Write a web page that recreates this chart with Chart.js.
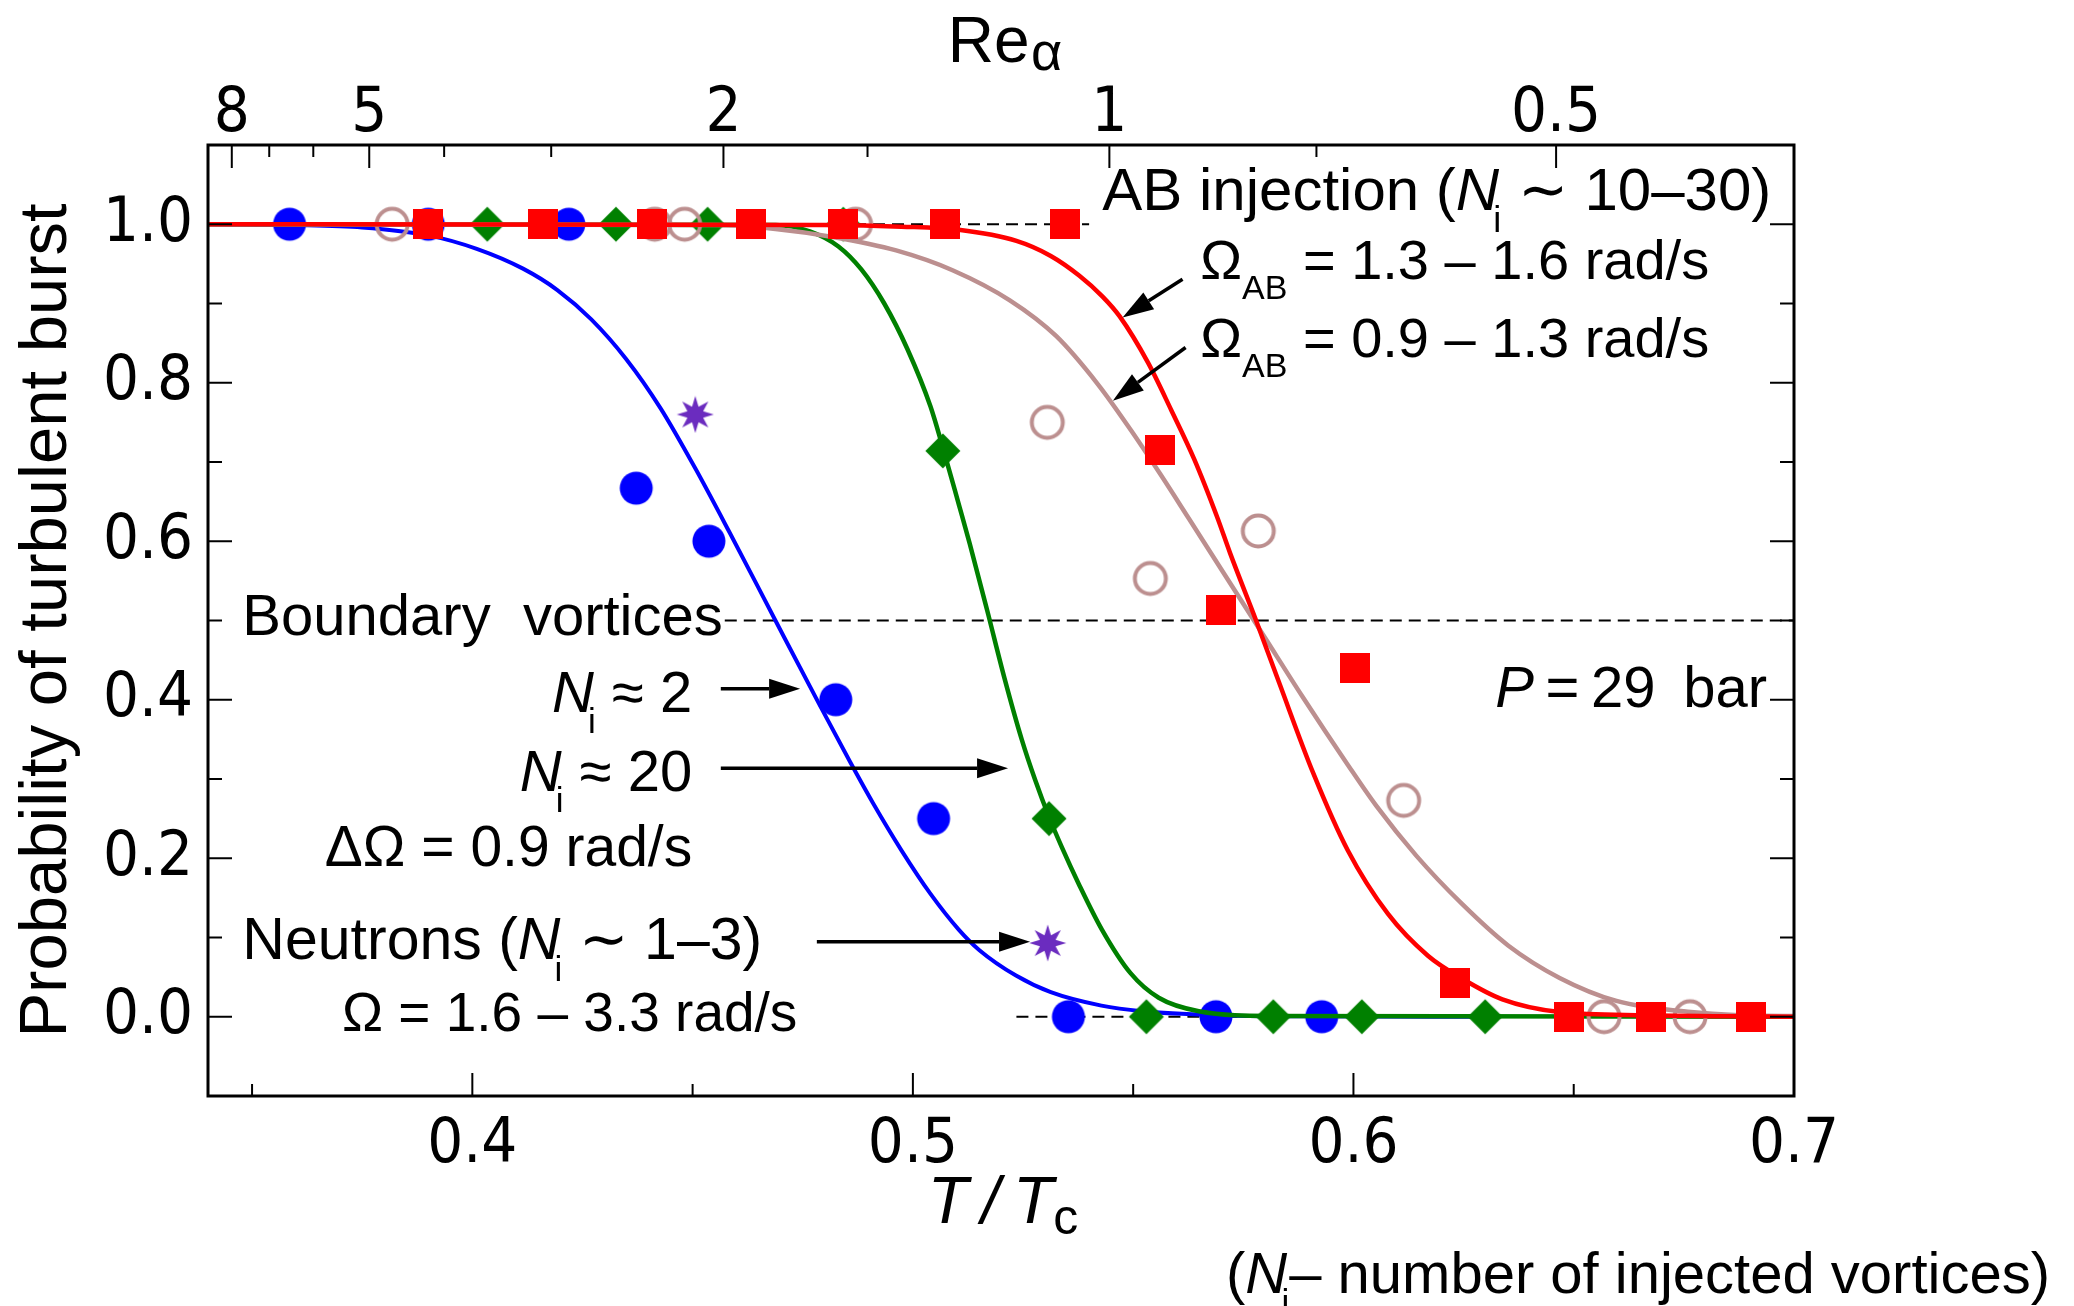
<!DOCTYPE html>
<html lang="en">
<head>
<meta charset="UTF-8">
<title>Probability of turbulent burst</title>
<style>
  html, body { margin: 0; padding: 0; background: #fff; }
  #wrap { width: 2074px; height: 1306px; }
</style>
</head>
<body>
<div id="wrap"><canvas id="burst" width="2074" height="1306"></canvas></div>
<script src="https://cdn.jsdelivr.net/npm/chart.js"></script>
<script>
// axis ranges and ticks
const tRange = [0.34, 0.70];
const pRange = [-0.1, 1.1];
const tTicks = [0.4, 0.5, 0.6, 0.7];
const tMinor = [0.35, 0.45, 0.55, 0.65];
const pTicks = [0.0, 0.2, 0.4, 0.6, 0.8, 1.0];
const pMinor = [0.1, 0.3, 0.5, 0.7, 0.9];

// top axis: Re_alpha, placed at the matching T/Tc
const reTicks = ['8', '7', '6', '5', '4', '3', '2', '1.5', '1', '0.7', '0.5'];
const reAtT   = [0.3454, 0.3539, 0.3639, 0.3766, 0.3936, 0.4179, 0.457, 0.4897, 0.5446, 0.5916, 0.646];
const reShown = ['8', '5', '2', '1', '0.5'];

// boundary vortices, Ni ~ 2
const bv2T = [0.3585, 0.3900, 0.4219, 0.4372, 0.4537, 0.4825, 0.5047, 0.5353, 0.5688, 0.5928];
const bv2P = [1, 1, 1, 0.667, 0.600, 0.400, 0.250, 0, 0, 0];
// boundary vortices, Ni ~ 20
const bv20T = [0.4034, 0.4326, 0.4534, 0.4842, 0.5068, 0.5309, 0.5530, 0.5818, 0.6019, 0.6299];
const bv20P = [1, 1, 1, 1, 0.714, 0.250, 0, 0, 0, 0];
// AB injection, Omega_AB = 1.3 - 1.6 rad/s
const abHiT = [0.3900, 0.4160, 0.4408, 0.4632, 0.4842, 0.5073, 0.5346, 0.5561, 0.5699, 0.6003, 0.6230, 0.6490, 0.6675, 0.6903];
const abHiP = [1, 1, 1, 1, 1, 1, 1, 0.715, 0.513, 0.440, 0.042, 0, 0, 0];
// AB injection, Omega_AB = 0.9 - 1.3 rad/s
const abLoT = [0.3818, 0.4414, 0.4482, 0.4870, 0.5305, 0.5539, 0.5784, 0.6114, 0.6569, 0.6764];
const abLoP = [1, 1, 1, 1, 0.750, 0.553, 0.613, 0.273, 0, 0];
// neutron irradiation
const neuT = [0.4506, 0.5306];
const neuP = [0.760, 0.093];

// fitted curves
const fitBv2T = [0.34, 0.36, 0.375, 0.39, 0.401, 0.4115, 0.4193, 0.427, 0.4349, 0.4427, 0.4506, 0.4584, 0.4688, 0.4785, 0.4857, 0.4909, 0.4974, 0.504, 0.5104, 0.5151, 0.5234, 0.5313, 0.5428, 0.552, 0.569, 0.59, 0.63];
const fitBv2P = [1.0, 0.999, 0.996, 0.986, 0.969, 0.944, 0.917, 0.880, 0.830, 0.768, 0.692, 0.611, 0.500, 0.397, 0.322, 0.270, 0.210, 0.155, 0.110, 0.084, 0.052, 0.031, 0.014, 0.007, 0.002, 0.0005, 0.0];
const fitBv20T = [0.34, 0.4688, 0.4766, 0.4831, 0.4883, 0.4935, 0.4988, 0.504, 0.5066, 0.5105, 0.5129, 0.5169, 0.5208, 0.5247, 0.5278, 0.5309, 0.5338, 0.5377, 0.5429, 0.5494, 0.5558, 0.5649, 0.5818, 0.70];
const fitBv20P = [1.0, 0.999, 0.991, 0.972, 0.943, 0.900, 0.842, 0.770, 0.722, 0.645, 0.597, 0.512, 0.427, 0.350, 0.298, 0.252, 0.214, 0.167, 0.110, 0.055, 0.024, 0.007, 0.001, 0.0];
const fitAbHiT = [0.34, 0.48, 0.4974, 0.5104, 0.5235, 0.5313, 0.5378, 0.543, 0.5469, 0.5534, 0.5586, 0.5639, 0.5691, 0.5720, 0.5779, 0.5831, 0.5909, 0.5987, 0.6078, 0.6169, 0.6247, 0.6338, 0.6468, 0.6662, 0.70];
const fitAbHiP = [1.0, 0.999, 0.997, 0.993, 0.979, 0.960, 0.935, 0.909, 0.884, 0.825, 0.766, 0.703, 0.630, 0.585, 0.500, 0.422, 0.307, 0.210, 0.130, 0.077, 0.048, 0.022, 0.006, 0.002, 0.0];
const fitAbLoT = [0.34, 0.4557, 0.4688, 0.4818, 0.4962, 0.509, 0.522, 0.5325, 0.542, 0.5495, 0.556, 0.5626, 0.5664, 0.5796, 0.5883, 0.5987, 0.6052, 0.6143, 0.6247, 0.6351, 0.6468, 0.6597, 0.6766, 0.6974, 0.70];
const fitAbLoP = [1.0, 0.999, 0.994, 0.984, 0.967, 0.942, 0.904, 0.859, 0.798, 0.740, 0.686, 0.629, 0.596, 0.481, 0.405, 0.318, 0.266, 0.203, 0.142, 0.090, 0.049, 0.020, 0.006, 0.001, 0.001];

// dashed guide lines: [from T, to T, level]
const guides = [[0.34, 0.540, 1.0], [0.4573, 0.70, 0.5], [0.5235, 0.70, 0.0]];

const FACE = "'Liberation Sans', Arial, sans-serif";
const NUMFACE = "'Liberation Sans Narrow', 'DejaVu Sans Condensed', sans-serif";

const pts = (xs, ys) => xs.map((x, i) => ({ x: x, y: ys[i] }));

function marker(kind, color) {
  const c = document.createElement('canvas');
  const s = kind === 'square' ? 30 : 38;
  c.width = s; c.height = s;
  const g = c.getContext('2d');
  const m = s / 2;
  g.fillStyle = color; g.strokeStyle = color;
  g.beginPath();
  if (kind === 'dot') {
    g.arc(m, m, 16.5, 0, Math.PI * 2); g.fill();
  } else if (kind === 'ring') {
    g.lineWidth = 4; g.arc(m, m, 15.5, 0, Math.PI * 2); g.stroke();
  } else if (kind === 'square') {
    g.fillRect(0, 0, s, s);
  } else if (kind === 'diamond') {
    g.moveTo(m, m - 17.5); g.lineTo(m + 17.5, m); g.lineTo(m, m + 17.5); g.lineTo(m - 17.5, m);
    g.closePath(); g.fill();
  } else if (kind === 'star') {
    for (let k = 0; k < 16; k++) {
      const r = k % 2 ? 8.5 : 18.5;
      const a = -Math.PI / 2 + k * Math.PI / 8;
      g.lineTo(m + r * Math.cos(a), m + r * Math.sin(a));
    }
    g.closePath(); g.fill();
  }
  return c;
}

const BLUE = '#0000ff', GREEN = '#008000', RED = '#ff0000', ROSY = '#bc8f8f', PURPLE = '#6b2cbf';

const datasets = [];
guides.forEach(([a, b, lvl]) => datasets.push({
  data: [{ x: a, y: lvl }, { x: b, y: lvl }], showLine: true, pointRadius: 0,
  borderColor: '#000', borderWidth: 2.2, borderDash: [12, 7], order: 100
}));
const curve = (xs, ys, color, w, order) => ({
  data: pts(xs, ys), showLine: true, pointRadius: 0, borderColor: color,
  borderWidth: w, cubicInterpolationMode: 'monotone', order: order
});
const dots = (xs, ys, img, order) => ({
  data: pts(xs, ys), showLine: false, pointRadius: 16, pointStyle: img, order: order
});
datasets.push(curve(fitBv2T, fitBv2P, BLUE, 4, 90));
datasets.push(dots(bv2T, bv2P, marker('dot', BLUE), 85));
datasets.push(curve(fitBv20T, fitBv20P, GREEN, 4.5, 80));
datasets.push(dots(bv20T, bv20P, marker('diamond', GREEN), 75));
datasets.push(curve(fitAbLoT, fitAbLoP, ROSY, 4.5, 70));
datasets.push(dots(abLoT, abLoP, marker('ring', ROSY), 65));
datasets.push(curve(fitAbHiT, fitAbHiP, RED, 4.5, 60));
datasets.push(dots(abHiT, abHiP, marker('square', RED), 55));
datasets.push(dots(neuT, neuP, marker('star', PURPLE), 50));

// text with italic / subscript runs
function styleOf(st, size) {
  const sub = Math.round(size * 0.6);
  if (st === 'i') return { font: `italic ${size}px ${FACE}`, dy: 0, pre: 0 };
  if (st === 's') return { font: `${sub}px ${FACE}`, dy: size * 0.36, pre: 0 };
  if (st === 'si') return { font: `${sub}px ${FACE}`, dy: size * 0.36, pre: -size * 0.1 };
  if (st === 'c') return { font: `${Math.round(size * 0.75)}px ${FACE}`, dy: size * 0.17, pre: 0 };
  if (st === 'a') return { font: `${Math.round(size * 0.85)}px ${FACE}`, dy: size * 0.12, pre: size * 0.02 };
  return { font: `${size}px ${FACE}`, dy: 0, pre: 0 };
}
function drawRich(ctx, segs, x, y, size, align) {
  const runs = segs.map(([txt, st]) => {
    const s = styleOf(st, size);
    ctx.font = s.font;
    return Object.assign({ txt: txt, w: ctx.measureText(txt).width }, s);
  });
  const total = runs.reduce((a, r) => a + r.pre + r.w, 0);
  let cx = align === 'right' ? x - total : align === 'center' ? x - total / 2 : x;
  ctx.textAlign = 'left';
  ctx.textBaseline = 'alphabetic';
  runs.forEach(r => {
    cx += r.pre;
    ctx.font = r.font;
    ctx.fillText(r.txt, cx, y + r.dy);
    cx += r.w;
  });
}

// annotations placed in data units (T/Tc, probability)
const notes = [
  { at: [0.5430, 1.0175], size: 60, align: 'left', segs: [['AB injection (', 'n'], ['N', 'i'], ['i', 'si'], [' \u223C 10\u201330)', 'n']] },
  { at: [0.5652, 0.9306], size: 56, align: 'left', segs: [['\u03A9', 'n'], ['AB', 's'], [' = 1.3 \u2013 1.6 rad/s', 'n']] },
  { at: [0.5652, 0.8323], size: 56, align: 'left', segs: [['\u03A9', 'n'], ['AB', 's'], [' = 0.9 \u2013 1.3 rad/s', 'n']] },
  { at: [0.3478, 0.4820], size: 58, align: 'left', segs: [['Boundary  vortices', 'n']] },
  { at: [0.4499, 0.3844], size: 58, align: 'right', segs: [['N', 'i'], ['i', 'si'], [' \u2248 2', 'n']] },
  { at: [0.4499, 0.2848], size: 58, align: 'right', segs: [['N', 'i'], ['i', 'si'], [' \u2248 20', 'n']] },
  { at: [0.4499, 0.1896], size: 57, align: 'right', segs: [['\u0394\u03A9 = 0.9 rad/s', 'n']] },
  { at: [0.3478, 0.0725], size: 59, align: 'left', segs: [['Neutrons (', 'n'], ['N', 'i'], ['i', 'si'], [' \u223C 1\u20133)', 'n']] },
  { at: [0.3704, -0.0183], size: 55, align: 'left', segs: [['\u03A9 = 1.6 \u2013 3.3 rad/s', 'n']] },
  { at: [0.6322, 0.3913], size: 58, align: 'left', segs: [['P', 'i'], ['\u2009=\u200929 \u2009bar', 'n']] }
];
// arrows: [tail T, tail P, tip T, tip P]
const arrows = [
  [0.5612, 0.9306, 0.5476, 0.8823],
  [0.5619, 0.8445, 0.5454, 0.7773],
  [0.4564, 0.4140, 0.4744, 0.4140],
  [0.4564, 0.3137, 0.5216, 0.3137],
  [0.4782, 0.0947, 0.5266, 0.0947]
];

const decor = {
  id: 'decor',
  afterDatasetsDraw(chart) {
    const ctx = chart.ctx, xs = chart.scales.x, ys = chart.scales.y;
    ctx.save();
    ctx.strokeStyle = '#000'; ctx.fillStyle = '#000'; ctx.lineWidth = 3.5;
    arrows.forEach(([t0, p0, t1, p1]) => {
      const x0 = xs.getPixelForValue(t0), y0 = ys.getPixelForValue(p0);
      const x1 = xs.getPixelForValue(t1), y1 = ys.getPixelForValue(p1);
      const a = Math.atan2(y1 - y0, x1 - x0), L = 31, hw = 10;
      const bx = x1 - L * Math.cos(a), by = y1 - L * Math.sin(a);
      ctx.beginPath(); ctx.moveTo(x0, y0); ctx.lineTo(bx, by); ctx.stroke();
      ctx.beginPath();
      ctx.moveTo(x1, y1);
      ctx.lineTo(bx + hw * Math.sin(a), by - hw * Math.cos(a));
      ctx.lineTo(bx - hw * Math.sin(a), by + hw * Math.cos(a));
      ctx.closePath(); ctx.fill();
    });
    ctx.restore();
  },
  afterDraw(chart) {
    const ctx = chart.ctx, a = chart.chartArea;
    const xs = chart.scales.x, ys = chart.scales.y;
    ctx.save();
    ctx.strokeStyle = '#000'; ctx.fillStyle = '#000';
    // frame
    ctx.lineWidth = 3;
    ctx.strokeRect(a.left, a.top, a.right - a.left, a.bottom - a.top);
    // inward tick marks
    ctx.lineWidth = 2;
    const vtick = (x, len) => {
      ctx.beginPath(); ctx.moveTo(x, a.bottom); ctx.lineTo(x, a.bottom - len); ctx.stroke();
    };
    const ttick = (x, len) => {
      ctx.beginPath(); ctx.moveTo(x, a.top); ctx.lineTo(x, a.top + len); ctx.stroke();
    };
    tTicks.forEach(t => vtick(xs.getPixelForValue(t), 23));
    tMinor.forEach(t => vtick(xs.getPixelForValue(t), 12));
    reTicks.forEach((lbl, i) => ttick(xs.getPixelForValue(reAtT[i]), reShown.includes(lbl) ? 23 : 12));
    const htick = (p, len) => {
      const y = ys.getPixelForValue(p);
      ctx.beginPath(); ctx.moveTo(a.left, y); ctx.lineTo(a.left + len, y); ctx.stroke();
      ctx.beginPath(); ctx.moveTo(a.right, y); ctx.lineTo(a.right - len, y); ctx.stroke();
    };
    pTicks.forEach(p => htick(p, 24));
    pMinor.forEach(p => htick(p, 14));

    // annotations
    notes.forEach(n => drawRich(ctx, n.segs, xs.getPixelForValue(n.at[0]), ys.getPixelForValue(n.at[1]), n.size, n.align));

    // axis titles
    const cx = (a.left + a.right) / 2;
    drawRich(ctx, [['T', 'i'], ['\u2009/\u2009', 'i'], ['T', 'i'], ['c', 'c']], cx + 2, a.bottom + 127, 66, 'center');
    drawRich(ctx, [['Re', 'n'], ['\u03B1', 'a']], cx + 4, 62, 64, 'center');
    drawRich(ctx, [['(', 'n'], ['N', 'i'], ['i', 'si'], ['\u2013 number of injected vortices)', 'n']], 2050, 1293, 58, 'right');
    ctx.save();
    ctx.translate(66, (a.top + a.bottom) / 2);
    ctx.rotate(-Math.PI / 2);
    drawRich(ctx, [['Probability of turbulent burst', 'n']], 0, 0, 67, 'center');
    ctx.restore();
    ctx.restore();
  }
};

const numFont = { family: NUMFACE, size: 63 };

new Chart(document.getElementById('burst'), {
  type: 'scatter',
  data: { datasets: datasets },
  options: {
    responsive: false,
    animation: false,
    events: [],
    layout: { autoPadding: false, padding: { left: 0, right: 280, top: 0, bottom: 0 } },
    plugins: { legend: { display: false }, tooltip: { enabled: false } },
    scales: {
      x: {
        type: 'linear', position: 'bottom', min: tRange[0], max: tRange[1],
        grid: { display: false, drawTicks: false }, border: { display: false },
        afterBuildTicks: s => { s.ticks = tTicks.map(v => ({ value: v })); },
        afterFit: s => { s.height = 210; },
        ticks: { font: numFont, color: '#000', padding: 12, autoSkip: false, maxRotation: 0,
                 callback: v => v.toFixed(1) }
      },
      x2: {
        type: 'linear', position: 'top', min: tRange[0], max: tRange[1],
        grid: { display: false, drawTicks: false }, border: { display: false },
        afterBuildTicks: s => { s.ticks = reAtT.map(v => ({ value: v })); },
        afterFit: s => { s.height = 145; },
        ticks: { font: numFont, color: '#000', padding: -7, autoSkip: false, maxRotation: 0,
                 callback: (v, i) => reShown.includes(reTicks[i]) ? reTicks[i] : '' }
      },
      y: {
        type: 'linear', position: 'left', min: pRange[0], max: pRange[1],
        grid: { display: false, drawTicks: false }, border: { display: false },
        afterBuildTicks: s => { s.ticks = pTicks.map(v => ({ value: v })); },
        afterFit: s => { s.width = 208; },
        ticks: { font: numFont, color: '#000', padding: 15, callback: v => v.toFixed(1) }
      }
    }
  },
  plugins: [decor]
});
</script>
</body>
</html>
